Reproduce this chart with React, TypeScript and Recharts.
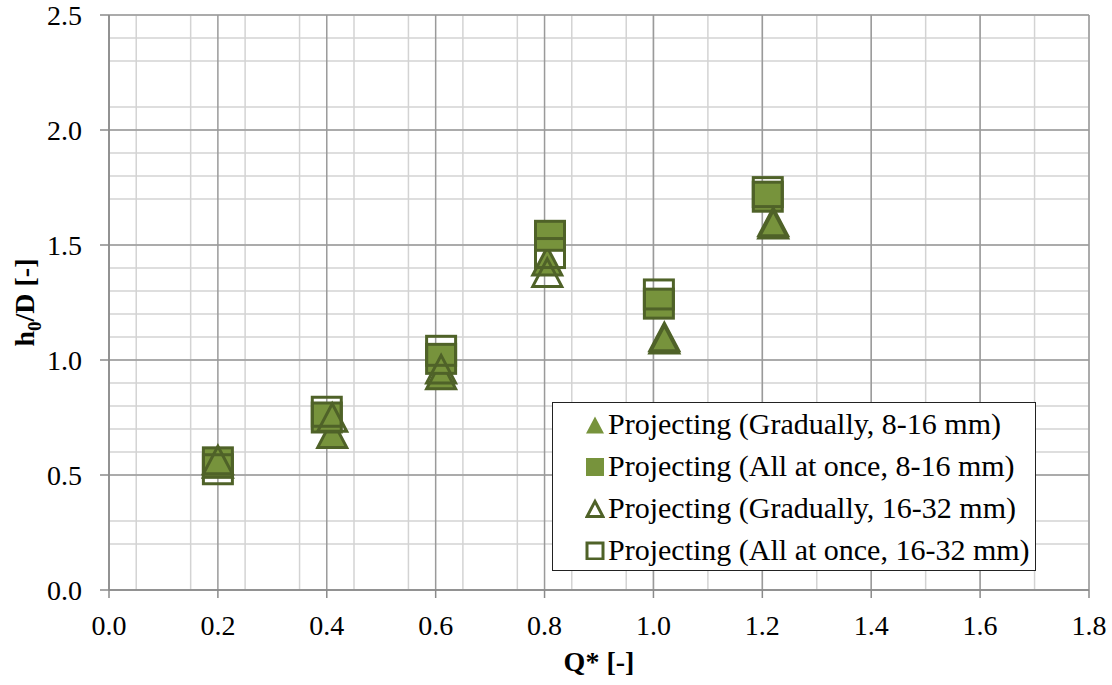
import React from 'react'
import {
  CartesianGrid,
  Legend,
  Scatter,
  ScatterChart,
  XAxis,
  YAxis,
} from 'recharts'

const FONT = "'Liberation Serif', 'Times New Roman', Times, serif"
const FILL = '#77933C'
const EDGE = '#4F6228'

// Q* for each test, per series
const gradFineQ = [0.2, 0.41, 0.61, 0.805, 1.02, 1.22]
const allFineQ = [0.2, 0.4, 0.61, 0.81, 1.01, 1.21]
const gradCoarseQ = [0.2, 0.41, 0.61, 0.805, 1.02, 1.22]
const allCoarseQ = [0.2, 0.4, 0.61, 0.81, 1.01, 1.21]

// h0/D for each test, per series
const gradFineH = [0.55, 0.68, 0.935, 1.43, 1.09, 1.59]
const allFineH = [0.555, 0.75, 1.005, 1.54, 1.245, 1.71]
const gradCoarseH = [0.565, 0.75, 0.96, 1.38, 1.1, 1.6]
const allCoarseH = [0.525, 0.775, 1.04, 1.465, 1.285, 1.73]

const xTicks = [0, 0.2, 0.4, 0.6, 0.8, 1.0, 1.2, 1.4, 1.6, 1.8]
const yTicks = [0, 0.5, 1.0, 1.5, 2.0, 2.5]
const xMinorTicks = Array.from({ length: 37 }, (_, i) => +(i * 0.05).toFixed(2))
const yMinorTicks = Array.from({ length: 26 }, (_, i) => +(i * 0.1).toFixed(1))

const toPoints = (xs: number[], ys: number[]) => xs.map((x, i) => ({ x, y: ys[i] }))

type Kind = 'triFilled' | 'sqFilled' | 'triOpen' | 'sqOpen'

const series: { name: string; kind: Kind; data: { x: number; y: number }[] }[] = [
  { name: 'Projecting (Gradually, 8-16 mm)', kind: 'triFilled', data: toPoints(gradFineQ, gradFineH) },
  { name: 'Projecting (All at once, 8-16 mm)', kind: 'sqFilled', data: toPoints(allFineQ, allFineH) },
  { name: 'Projecting (Gradually, 16-32 mm)', kind: 'triOpen', data: toPoints(gradCoarseQ, gradCoarseH) },
  { name: 'Projecting (All at once, 16-32 mm)', kind: 'sqOpen', data: toPoints(allCoarseQ, allCoarseH) },
]

function Marker({ kind, cx, cy, w, sw }: { kind: Kind; cx: number; cy: number; w: number; sw: number }) {
  const fill = kind.endsWith('Filled') ? FILL : 'none'
  const half = (w - sw) / 2
  if (kind.startsWith('sq')) {
    return (
      <rect x={cx - half} y={cy - half} width={half * 2} height={half * 2}
        fill={fill} stroke={EDGE} strokeWidth={sw} />
    )
  }
  const h = half * 0.95
  const pts = `${cx},${cy - h} ${cx + half},${cy + h} ${cx - half},${cy + h}`
  return <polygon points={pts} fill={fill} stroke={EDGE} strokeWidth={sw} strokeLinejoin="miter" />
}

const shapeFor = (kind: Kind) => (props: any) =>
  <Marker kind={kind} cx={props.cx} cy={props.cy} w={32} sw={3} />

// legend rows keep the series order (the payload comes back reversed)
function LegendBox({ payload }: any) {
  const items = [...(payload || [])].sort(
    (a: any, b: any) =>
      series.findIndex((s) => s.name === a.value) - series.findIndex((s) => s.name === b.value),
  )
  return (
    <div style={{
      border: '1.5px solid #222', background: '#fff', boxSizing: 'border-box',
      width: 484, height: 169, paddingLeft: 32, fontFamily: FONT, fontSize: 30,
    }}>
      {items.map((p: any) => {
        const s = series.find((d) => d.name === p.value)!
        const filled = s.kind.endsWith('Filled')
        return (
          <div key={p.value} style={{ height: 42, display: 'flex', alignItems: 'center', whiteSpace: 'nowrap' }}>
            <svg width={20} height={20} style={{ marginRight: 3 }}>
              <Marker kind={s.kind} cx={10} cy={11} w={filled ? 18 : 19} sw={filled ? 0 : 3} />
            </svg>
            <span style={{ color: '#000' }}>{p.value}</span>
          </div>
        )
      })}
    </div>
  )
}

const YTitle = ({ viewBox }: any) => {
  const cy = viewBox.y + viewBox.height / 2
  return (
    <text x={34} y={cy} transform={`rotate(-90, 34, ${cy})`} textAnchor="middle"
      fontFamily={FONT} fontSize={28} fontWeight="bold" fill="#000">
      h<tspan fontSize={19} dy={7}>0</tspan><tspan dy={-7}>/D [-]</tspan>
    </text>
  )
}

export default function App() {
  return (
    <div style={{ position: 'absolute', left: 0, top: 0, fontFamily: FONT }}>
      <ScatterChart width={1112} height={685} margin={{ top: 15, right: 23, left: 0, bottom: 0 }}
        style={{ fontFamily: FONT }}>
        <XAxis xAxisId="minor" type="number" dataKey="x" domain={[0, 1.8]} ticks={xMinorTicks}
          allowDataOverflow hide />
        <YAxis yAxisId="minor" type="number" dataKey="y" domain={[0, 2.5]} ticks={yMinorTicks}
          allowDataOverflow hide />
        <CartesianGrid xAxisId="minor" yAxisId="minor" stroke="#d3d3d3" strokeWidth={1.5} />
        <CartesianGrid stroke="#9a9a9a" strokeWidth={1.5} />
        <XAxis type="number" dataKey="x" domain={[0, 1.8]} ticks={xTicks} allowDataOverflow
          height={95} tickSize={8} tickMargin={17} interval={0}
          stroke="#8a8a8a" strokeWidth={1.5}
          tick={{ fill: '#000', fontSize: 28, fontFamily: FONT }}
          tickFormatter={(v: number) => v.toFixed(1)}
          label={{ value: 'Q* [-]', position: 'insideBottom', offset: 14, fill: '#000',
            fontSize: 28, fontWeight: 'bold', fontFamily: FONT }} />
        <YAxis type="number" dataKey="y" domain={[0, 2.5]} ticks={yTicks} allowDataOverflow
          width={109} tickSize={9} tickMargin={18} interval={0}
          stroke="#8a8a8a" strokeWidth={1.5}
          tick={{ fill: '#000', fontSize: 28, fontFamily: FONT }}
          tickFormatter={(v: number) => v.toFixed(1)}
          label={<YTitle />} />
        <Legend layout="vertical" align="center" verticalAlign="middle"
          wrapperStyle={{ left: 552, top: 402, width: 484, height: 169 }}
          content={<LegendBox />} />
        {series.map((s) => (
          <Scatter key={s.name} name={s.name} data={s.data} shape={shapeFor(s.kind)}
            isAnimationActive={false} />
        ))}
      </ScatterChart>
    </div>
  )
}
